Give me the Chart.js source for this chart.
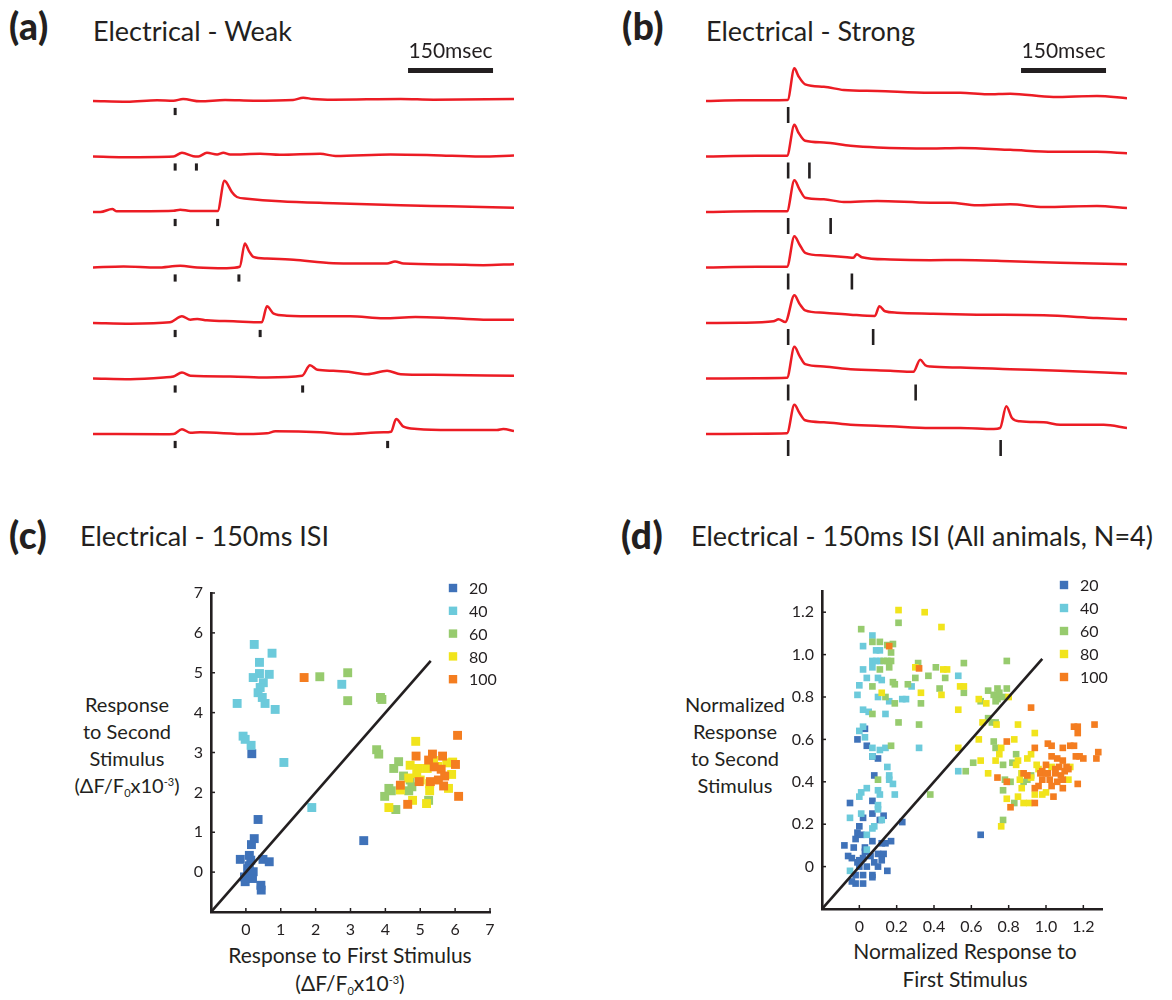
<!DOCTYPE html>
<html>
<head>
<meta charset="utf-8">
<script src="https://cdn.jsdelivr.net/npm/chart.js@4.4.1/dist/chart.umd.min.js"></script>
<style>
  body { margin: 0; background: #fff; }
  #fig { position: relative; width: 1172px; height: 1000px; overflow: hidden; font-family: Lato, "Open Sans", sans-serif; color: #231f20; }
  .t { position: absolute; white-space: nowrap; line-height: 1; }
  .pl { font-weight: 900; font-size: 37px; letter-spacing: 0.5px; }
  .tt { font-size: 27px; }
  .ax { position: absolute; font-size: 20px; line-height: 27px; text-align: center; white-space: nowrap; }
  .axx { font-size: 21px; line-height: 28px; }
  .ax sub { font-size: 11px; vertical-align: -4px; line-height: 0; }
  .ax sup { font-size: 11px; vertical-align: 7px; line-height: 0; }
  canvas { position: absolute; }
</style>
</head>
<body>
<div id="fig">
  <div class="t pl" style="left:9px;top:7px">(a)</div>
  <div class="t tt" style="left:93px;top:17px">Electrical - Weak</div>
  <div class="t pl" style="left:622px;top:7px">(b)</div>
  <div class="t tt" style="left:706px;top:17px">Electrical - Strong</div>
  <div class="t pl" style="left:9px;top:516px">(c)</div>
  <div class="t tt" style="left:80px;top:522px">Electrical - 150ms ISI</div>
  <div class="t pl" style="left:621px;top:516px">(d)</div>
  <div class="t tt" style="left:691px;top:522px">Electrical - 150ms ISI (All animals, N=4)</div>

  <div class="ax" style="left:27px;top:691px;width:200px">Response<br>to Second<br>Stimulus<br>(ΔF/F<sub>0</sub>x10<sup>-3</sup>)</div>
  <div class="ax axx" style="left:200px;top:941px;width:300px">Response to First Stimulus<br>(ΔF/F<sub>0</sub>x10<sup>-3</sup>)</div>
  <div class="ax" style="left:635px;top:691px;width:200px">Normalized<br>Response<br>to Second<br>Stimulus</div>
  <div class="ax axx" style="left:815px;top:937px;width:300px">Normalized Response to<br>First Stimulus</div>

  <canvas id="weak" width="421" height="450" style="left:93px;top:30px"></canvas>
  <canvas id="strong" width="421" height="450" style="left:706px;top:30px"></canvas>
  <canvas id="isi" width="360" height="380" style="left:150px;top:570px"></canvas>
  <canvas id="norm" width="380" height="390" style="left:760px;top:560px"></canvas>
</div>

<script>
// ---- traces: [time ms, dF amplitude] ----
const STIM_1 = 145;
const secondStim = [null, 182.5, 220, 257.5, 295, 370, 520];

const weak1 = [[0,0],[60,-0.7],[113,0.7],[142,0.3],[159,2],[189,-0.3],[233,1],[283,0.3],[353,1],[371,3.3],[388,2],[424,1.3],[543,2],[601,1.3],[743,2]];
const weak2 = [[0,0],[53,-0.7],[142,0],[157,3.7],[177,0.3],[186,0],[201,3.7],[219,2],[230,3.7],[242,2],[295,2.7],[330,1.7],[401,2.7],[428,0.5],[525,2],[601,1.3],[684,0],[743,1]];
const weak3 = [[0,0],[13,0],[34,3],[42,0.7],[142,1.3],[154,2.3],[172,1],[220,1],[232,31.3],[235,30],[245,20],[254,15],[272,13.3],[330,10.7],[424,8.7],[543,6.7],[631,5.7],[743,4.3]];
const weak4 = [[0,0],[54,1],[113,0],[154,1.7],[184,0],[236,-0.7],[259,0.7],[268,24],[275,16.7],[283,10.7],[307,9],[354,7.7],[424,4.3],[519,4],[533,6],[548,4],[631,3],[689,2.3],[743,3.3]];
const weak5 = [[0,0],[66,-0.7],[136,0.7],[157,6.7],[172,3.3],[184,4],[201,2.7],[248,1.7],[298,0.7],[307,16.7],[319,9.3],[342,7.3],[401,6.7],[454,6.7],[513,4.7],[569,6],[618,5.3],[689,3.3],[743,3.3]];
const weak6 = [[0,0],[66,-0.7],[125,1],[142,2],[157,6],[172,2.7],[242,2],[307,1],[369,2.7],[383,13.3],[396,8.7],[424,7.7],[451,6.7],[484,4.3],[519,7.7],[543,4.3],[601,3.7],[743,2.7]];
const weak7 = [[0,0],[125,-0.3],[142,0],[157,4.7],[172,1.3],[189,1.7],[272,0],[307,0.7],[322,2.7],[401,1.7],[442,0],[513,1.7],[526,2.3],[535,15],[548,7.3],[572,5],[631,4],[713,4],[724,5],[743,3]];

const strong1 = [[0,0],[61,0.7],[144,1],[156,32.7],[163,25],[175,16.7],[208,14.3],[243,11],[302,10],[396,8.3],[449,8.3],[496,6.7],[537,7.3],[613,4],[690,5],[743,2.7]];
const strong2 = [[0,0],[90,0.7],[143,0.7],[156,31.7],[163,24],[175,15.7],[208,14],[255,10.7],[302,9],[396,8],[449,8.5],[537,6.7],[613,4.7],[690,4.7],[743,3.3]];
const strong3 = [[0,0],[90,0.7],[143,0.7],[156,31.7],[165,22.7],[175,14.3],[208,12.7],[243,10],[302,11],[396,9.3],[431,9.3],[478,6.7],[537,7.7],[596,5],[690,6],[743,4]];
const strong4 = [[0,0],[90,0.7],[143,0.7],[156,31.3],[165,23],[175,14.7],[208,12],[249,10.3],[260,9.7],[266,13.3],[275,10.3],[325,8],[396,7.3],[449,7.5],[537,6.3],[625,4.7],[743,3.3]];
const strong5 = [[0,0],[61,0.3],[119,1.7],[128,3.7],[140,1],[156,27.7],[165,19.3],[175,12.7],[208,10.3],[255,8.3],[298,7],[306,16.7],[316,11.7],[337,10.3],[396,9.3],[478,8.3],[596,7.7],[690,5],[743,3.7]];
const strong6 = [[0,0],[90,0.3],[143,0.7],[156,31.7],[165,22.7],[175,14.3],[208,12],[255,9.3],[325,7.7],[366,6.7],[378,18.7],[387,13.3],[396,12],[449,11],[537,9.3],[625,7.7],[743,5]];
const strong7 = [[0,0],[90,0.3],[143,0.7],[156,29.3],[165,21],[175,13.7],[208,11.7],[255,9.3],[325,7.7],[396,6],[449,6],[508,5],[519,6],[530,27.7],[540,16],[554,12.7],[596,11.7],[625,9.3],[702,9.3],[743,6]];

const weakTraces = [weak1, weak2, weak3, weak4, weak5, weak6, weak7];
const strongTraces = [strong1, strong2, strong3, strong4, strong5, strong6, strong7];
const SCALE_BAR_MS = 150;

// ---- scatter: [first response, second response] by ISI group ----
const isiLabels = ['20', '40', '60', '80', '100'];

const c20 = [[0.17,2.97],[0.35,1.32],[0.24,0.84],[0.16,0.69],[0.10,0.42],[-0.16,0.32],[0.14,0.30],[0.49,0.32],[0.67,0.26],[0.10,0.16],[0.05,0.09],[0.21,0.01],[-0.04,-0.12],[0.14,-0.14],[-0.02,-0.24],[0.19,-0.16],[0.43,-0.33],[0.44,-0.45],[3.38,0.79]];
const c40 = [[0.24,5.71],[0.75,5.49],[0.39,5.26],[0.39,4.98],[0.21,4.88],[0.67,4.96],[0.50,4.75],[0.41,4.63],[0.35,4.50],[0.47,4.38],[0.55,4.23],[-0.25,4.23],[0.84,4.08],[-0.08,3.41],[-0.02,3.33],[0.15,3.18],[1.09,2.75],[1.89,1.62],[2.75,4.71]];
const c60 = [[2.12,4.90],[2.92,5.00],[2.92,4.30],[3.86,4.38],[3.90,4.33],[3.75,3.07],[3.81,2.96],[4.38,2.77],[4.24,2.60],[4.52,2.41],[4.10,2.10],[4.17,2.04],[3.98,1.90],[4.30,1.57],[4.67,2.04],[4.76,2.14],[4.71,2.31],[5.24,1.80]];
const c80 = [[4.87,3.28],[4.71,2.68],[4.95,2.60],[4.90,2.47],[4.67,2.36],[4.43,2.06],[4.10,1.62],[4.78,1.80],[5.18,1.72],[5.27,2.04],[5.27,2.22],[5.81,2.10],[5.90,2.45],[5.93,2.76],[5.76,2.74],[5.38,2.80],[5.20,2.60],[5.00,2.31],[5.50,2.65]];
const c100 = [[1.67,4.88],[6.07,3.43],[4.88,2.91],[5.35,2.96],[5.64,2.91],[5.24,2.81],[5.40,2.64],[5.60,2.58],[6.01,2.70],[5.70,2.41],[5.52,2.31],[5.29,2.27],[5.67,2.16],[4.97,2.27],[4.43,2.18],[4.64,1.70],[6.10,1.90]];
const cTicks = [0, 1, 2, 3, 4, 5, 6, 7];
const cUnity = [-1, 5.3];

const d20 = [[0.03,0.65],[-0.01,0.60],[0.04,0.57],[0.07,0.52],[0.10,0.51],[0.08,0.43],[0.07,0.31],[-0.05,0.30],[0.11,0.22],[0.07,0.25],[0.13,0.24],[0.23,0.21],[0.02,0.23],[0.00,0.19],[-0.01,0.16],[-0.02,0.13],[0.01,0.15],[-0.08,0.10],[-0.03,0.09],[0.03,0.09],[0.07,0.12],[0.12,0.11],[0.14,0.11],[0.17,0.12],[-0.06,0.05],[-0.04,0.04],[-0.01,0.02],[0.06,0.05],[0.10,0.06],[0.13,0.06],[0.00,0.00],[0.04,0.00],[0.08,0.02],[0.12,0.03],[0.10,0.00],[0.15,-0.02],[-0.02,-0.04],[0.02,-0.04],[0.07,-0.04],[-0.02,-0.08],[0.02,-0.08],[0.07,-0.05],[-0.04,-0.07],[0.00,0.03],[0.03,0.07],[0.02,0.04],[0.65,0.15]];
const d40 = [[0.07,1.09],[0.02,1.04],[0.09,1.02],[0.11,1.02],[0.07,0.97],[0.09,0.97],[0.11,0.97],[0.02,0.93],[0.07,0.94],[0.04,0.89],[0.10,0.89],[0.12,0.88],[0.00,0.855],[-0.01,0.81],[0.10,0.80],[0.16,0.78],[0.23,0.79],[0.25,0.79],[0.28,0.85],[0.02,0.74],[0.05,0.73],[0.14,0.72],[0.02,0.66],[0.00,0.64],[0.03,0.61],[0.07,0.56],[0.11,0.55],[0.14,0.56],[0.07,0.52],[0.32,0.56],[0.15,0.47],[0.16,0.43],[0.16,0.41],[0.18,0.39],[0.19,0.34],[0.04,0.37],[0.01,0.35],[0.00,0.33],[0.10,0.36],[0.11,0.34],[0.10,0.29],[0.10,0.27],[-0.05,0.23],[0.01,0.25],[0.12,0.22],[0.08,0.19],[0.07,0.18],[0.04,0.15],[0.04,0.08],[-0.05,-0.02],[0.53,0.90],[0.53,0.45]];
const d60 = [[0.01,1.12],[0.21,1.15],[0.07,1.06],[0.11,1.06],[0.15,1.045],[0.18,1.05],[0.17,1.01],[0.13,0.97],[0.15,0.97],[0.17,0.97],[0.16,0.94],[0.11,0.93],[0.315,0.96],[0.41,0.94],[0.37,0.90],[0.30,0.89],[0.46,0.89],[0.43,0.84],[0.56,0.96],[0.56,0.82],[0.18,0.87],[0.19,0.86],[0.26,0.86],[0.07,0.85],[0.14,0.80],[0.19,0.77],[0.33,0.77],[0.21,0.68],[0.32,0.67],[0.07,0.72],[0.17,0.57],[0.10,0.41],[0.38,0.34],[0.57,0.45],[0.79,0.97],[0.69,0.83],[0.74,0.84],[0.79,0.84],[0.72,0.81],[0.74,0.79],[0.77,0.80],[0.75,0.82],[0.73,0.78],[0.65,0.78],[0.69,0.70],[0.71,0.68],[0.73,0.68],[0.72,0.59],[0.73,0.56],[0.77,0.48],[0.61,0.49],[0.84,0.53],[0.82,0.49],[0.78,0.41],[0.81,0.40],[0.77,0.36],[0.83,0.30],[0.87,0.44],[0.90,0.41],[0.92,0.43],[0.88,0.40],[0.77,0.22]];
const d80 = [[0.21,1.21],[0.35,1.20],[0.44,1.13],[0.30,0.94],[0.47,0.93],[0.45,0.93],[0.12,0.82],[0.33,0.82],[0.44,0.81],[0.54,0.85],[0.56,0.85],[0.53,0.74],[0.53,0.56],[0.64,0.79],[0.68,0.77],[0.80,0.80],[0.66,0.68],[0.735,0.67],[0.85,0.67],[0.94,0.63],[0.64,0.60],[0.83,0.60],[0.76,0.56],[0.75,0.53],[0.73,0.50],[0.65,0.50],[0.69,0.44],[0.92,0.53],[0.90,0.51],[0.85,0.50],[0.84,0.48],[0.95,0.48],[0.96,0.46],[0.87,0.44],[0.92,0.42],[0.86,0.41],[0.87,0.37],[0.85,0.33],[0.88,0.30],[0.91,0.30],[0.94,0.34],[0.98,0.34],[1.00,0.35],[0.79,0.32],[1.03,0.47],[1.12,0.41],[1.13,0.47],[0.76,0.19]];
const d100 = [[0.16,1.04],[0.32,0.935],[0.92,0.75],[1.15,0.66],[1.17,0.66],[1.17,0.63],[1.26,0.67],[0.79,0.59],[1.01,0.58],[1.03,0.57],[1.09,0.56],[1.13,0.57],[1.15,0.57],[1.28,0.54],[1.27,0.51],[1.20,0.51],[1.16,0.52],[1.18,0.52],[1.03,0.52],[1.06,0.51],[1.09,0.50],[1.11,0.47],[1.00,0.48],[0.98,0.45],[1.01,0.44],[1.05,0.44],[1.08,0.43],[0.98,0.41],[1.02,0.41],[1.06,0.40],[1.09,0.41],[0.96,0.38],[1.03,0.38],[1.09,0.37],[1.17,0.39],[1.04,0.33],[0.94,0.30],[0.81,0.28],[0.74,0.42],[0.88,0.44],[0.90,0.43],[0.94,0.37],[0.79,0.40],[0.94,0.56],[1.05,0.46],[1.07,0.47],[1.10,0.45],[1.12,0.46],[0.97,0.44],[1.00,0.44]];
const dTicks = [0, 0.2, 0.4, 0.6, 0.8, 1.0, 1.2];
const dUnity = [-0.2, 0.98];

// ---- styling ----
const INK = '#231f20';
const TRACE_RED = '#ec1c24';
const GROUP_COLORS = ['#3f72b9', '#6ccadb', '#97cb6e', '#f1e41c', '#f47d20'];
const FONT = 'Lato, "Open Sans", sans-serif';
const ROW_GAP = 55.5;

Chart.defaults.animation = false;
Chart.defaults.font.family = FONT;
Chart.defaults.color = INK;
Chart.defaults.plugins.legend.display = false;
Chart.defaults.plugins.tooltip.enabled = false;

const toXY = pts => pts.map(p => ({ x: p[0], y: p[1] }));

// text above the 150 ms scale bar
const scaleBarLabel = {
  id: 'scaleBarLabel',
  afterDatasetsDraw(chart) {
    const meta = chart.getDatasetMeta(chart.data.datasets.length - 1);
    const a = meta.data[0], b = meta.data[1];
    const ctx = chart.ctx;
    ctx.save();
    ctx.fillStyle = INK;
    ctx.font = '21px ' + FONT;
    ctx.textAlign = 'center';
    ctx.textBaseline = 'alphabetic';
    ctx.fillText('150msec', (a.x + b.x) / 2, a.y - 13);
    ctx.restore();
  }
};

function traceChart(id, traces, tickHalf, tickDrop, tickWidth) {
  const datasets = traces.map((tr, k) => ({
    type: 'line',
    data: tr.map(p => ({ x: p[0], y: p[1] - k * ROW_GAP })),
    borderColor: TRACE_RED,
    borderWidth: 2.5,
    pointRadius: 0,
    cubicInterpolationMode: 'monotone'
  }));
  const marks = [];
  traces.forEach((tr, k) => {
    marks.push({ x: STIM_1, y: -k * ROW_GAP - tickDrop });
    if (secondStim[k] !== null) marks.push({ x: secondStim[k], y: -k * ROW_GAP - tickDrop });
  });
  datasets.push({
    type: 'scatter',
    data: marks,
    pointStyle: 'line',
    rotation: 90,
    radius: tickHalf,
    borderWidth: tickWidth,
    borderColor: INK,
    backgroundColor: INK
  });
  datasets.push({
    type: 'line',
    data: [{ x: 556, y: 30.5 }, { x: 556 + SCALE_BAR_MS, y: 30.5 }],
    borderColor: INK,
    borderWidth: 5,
    borderCapStyle: 'butt',
    pointRadius: 0
  });
  new Chart(document.getElementById(id), {
    data: { datasets },
    options: {
      responsive: false,
      layout: { padding: 0, autoPadding: false },
      scales: {
        x: { type: 'linear', min: 0, max: 743, display: false },
        y: { type: 'linear', min: -379, max: 71, display: false }
      }
    },
    plugins: [scaleBarLabel]
  });
}

traceChart('weak', weakTraces, 3.6, 10.5, 3);
traceChart('strong', strongTraces, 8, 14, 2.6);

// inward tick marks, MATLAB style
const innerTicks = {
  id: 'innerTicks',
  afterDraw(chart) {
    const { ctx, chartArea: a, scales: { x, y } } = chart;
    ctx.save();
    ctx.strokeStyle = INK;
    ctx.lineWidth = 1.5;
    x.ticks.forEach(t => {
      const px = x.getPixelForValue(t.value);
      ctx.beginPath(); ctx.moveTo(px, a.bottom); ctx.lineTo(px, a.bottom - 4); ctx.stroke();
    });
    y.ticks.forEach(t => {
      const py = y.getPixelForValue(t.value);
      ctx.beginPath(); ctx.moveTo(a.left, py); ctx.lineTo(a.left + 4, py); ctx.stroke();
    });
    ctx.restore();
  }
};

// legend of squares inside the top right corner
const squareLegend = {
  id: 'squareLegend',
  afterDraw(chart, args, opts) {
    const { ctx, chartArea: a } = chart;
    ctx.save();
    ctx.font = '16px ' + FONT;
    ctx.textBaseline = 'middle';
    ctx.textAlign = 'left';
    isiLabels.forEach((lab, i) => {
      const cx = a.right + opts.dx, cy = a.top + opts.dy + i * opts.gap;
      ctx.fillStyle = GROUP_COLORS[i];
      ctx.fillRect(cx - 4.2, cy - 4.2, 8.4, 8.4);
      ctx.fillStyle = INK;
      ctx.fillText(lab, cx + 16, cy + 1);
    });
    ctx.restore();
  }
};

function scatterChart(id, groups, unity, range, ticks, fmt, geom) {
  const datasets = groups.map((g, i) => ({
    type: 'scatter',
    label: isiLabels[i],
    data: toXY(g),
    pointStyle: 'rect',
    radius: geom.r,
    borderWidth: 0,
    backgroundColor: GROUP_COLORS[i],
    order: groups.length - i
  }));
  datasets.push({
    type: 'line',
    data: [{ x: unity[0], y: unity[0] }, { x: unity[1], y: unity[1] }],
    borderColor: INK,
    borderWidth: 2.6,
    pointRadius: 0,
    order: 0
  });
  const axis = (w, h) => ({
    type: 'linear', min: range[0], max: range[1],
    grid: { display: false, drawTicks: false },
    border: { display: true, color: INK, width: 2.6 },
    afterBuildTicks: s => { s.ticks = ticks.map(v => ({ value: v })); },
    afterFit: s => { if (w) s.width = w; if (h) s.height = h; },
    ticks: { color: INK, font: { size: 16 }, padding: 8, callback: fmt }
  });
  new Chart(document.getElementById(id), {
    data: { datasets },
    options: {
      responsive: false,
      layout: { padding: geom.pad, autoPadding: false },
      scales: { x: axis(0, geom.xh), y: axis(geom.yw, 0) },
      plugins: { squareLegend: geom.legend }
    },
    plugins: [innerTicks, squareLegend]
  });
}

scatterChart('isi', [c20, c40, c60, c80, c100], cUnity, [-1, 7], cTicks, v => String(v), {
  r: 6.3, xh: 38, yw: 61, pad: { left: 0, right: 20, top: 23, bottom: 0 },
  legend: { dx: -37, dy: -5, gap: 22.8 }
});
scatterChart('norm', [d20, d40, d60, d80, d100], dUnity, [-0.2, 1.3], dTicks, v => v === 0 ? '0' : v.toFixed(1), {
  r: 4.7, xh: 41, yw: 62, pad: { left: 0, right: 38, top: 31, bottom: 0 },
  legend: { dx: -38, dy: -6, gap: 23 }
});
</script>
</body>
</html>
